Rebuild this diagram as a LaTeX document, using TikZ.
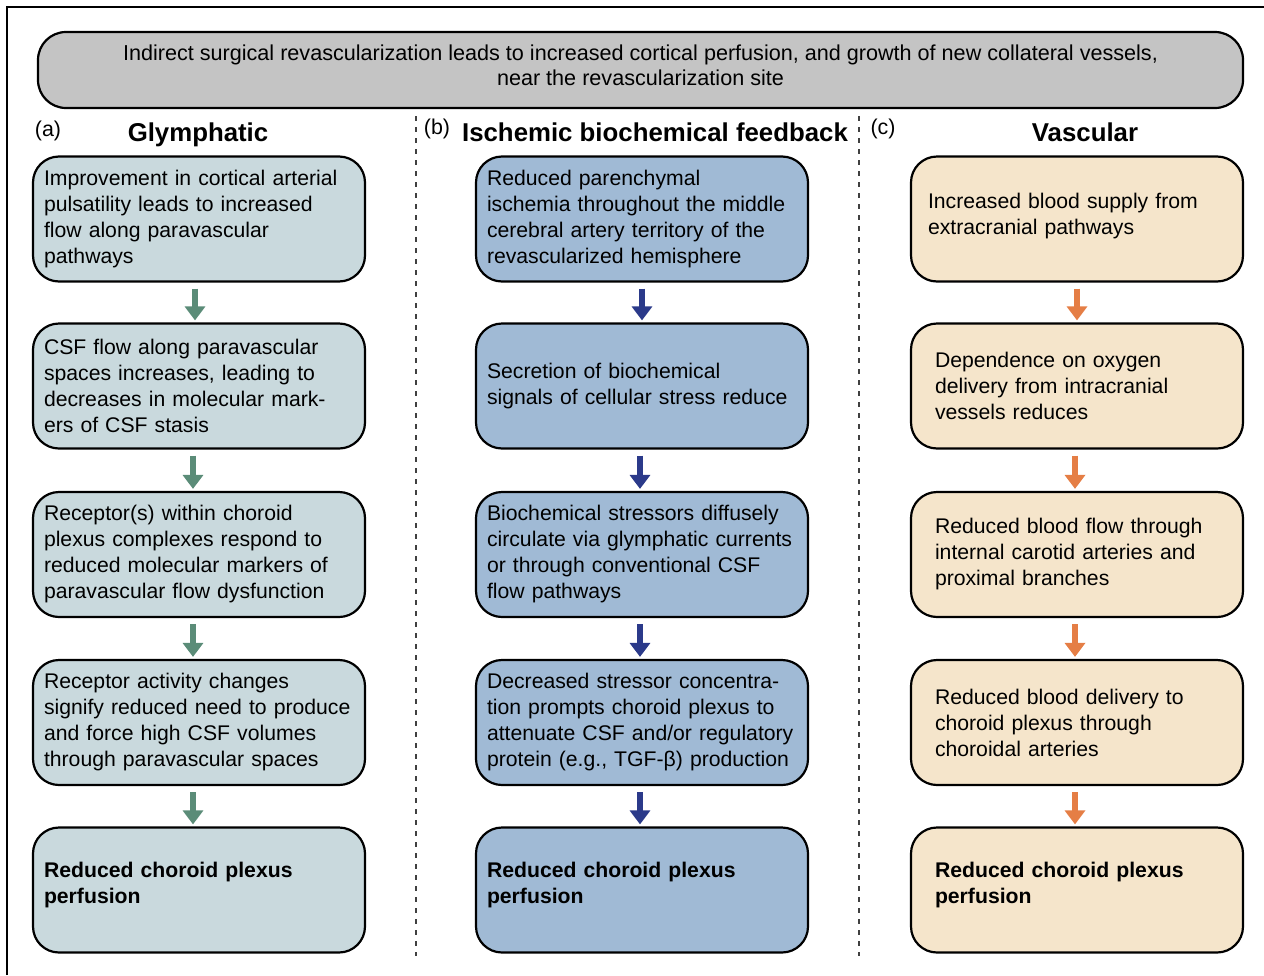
\documentclass[tikz,border=0pt]{standalone}
\usepackage{fontspec}
\setmainfont{Liberation Sans}
\usetikzlibrary{arrows.meta,positioning}
\usepackage{xcolor}
\definecolor{glyfill}{HTML}{C9D9DD}
\definecolor{ischfill}{HTML}{A0BAD5}
\definecolor{vascfill}{HTML}{F5E5CB}
\definecolor{topfill}{HTML}{C4C4C4}
\definecolor{glyarr}{HTML}{5B8C78}
\definecolor{isharr}{HTML}{2B3A8A}
\definecolor{vasarr}{HTML}{E57E45}

\begin{document}
\begin{tikzpicture}[x=0.5pt, y=-0.5pt,
  box/.style={rectangle, draw, line width=1.1pt, fill=#1, rounded corners=13pt, minimum width=166pt, minimum height=62.5pt,
    text width=155pt, inner xsep=5.5pt, align=left, font=\fontsize{10.6}{13}\selectfont},
  endbox/.style={box=#1, text depth=20pt, font=\fontsize{10.6}{13}\selectfont\bfseries},
  vbox/.style={box=vascfill, inner xsep=12pt, text width=142pt},
  arr/.style={-{Triangle[width=10pt,length=7pt]}, line width=3pt, #1},
  head/.style={anchor=base, font=\fontsize{12.9}{15}\selectfont\bfseries},
  tag/.style={font=\fontsize{10.7}{13}\selectfont}
]
  \useasboundingbox (0,0) rectangle (1264,975);
  \draw[line width=1pt] (7,975) -- (7,7) -- (1264,7);

  \node[rectangle, draw, line width=1.1pt, fill=topfill, rounded corners=14pt, minimum width=602.5pt, minimum height=38pt,
    text depth=5pt, align=center, font=\fontsize{10.8}{12.6}\selectfont] (top) at (640.5,70)
    {Indirect surgical revascularization leads to increased cortical perfusion, and growth of new collateral vessels,\\near the revascularization site};

  \draw[dashed, line width=0.7pt, dash pattern=on 2.5pt off 3pt, black!75] (416,116) -- (416,956);
  \draw[dashed, line width=0.7pt, dash pattern=on 2.5pt off 3pt, black!75] (859,116) -- (859,956);

  % (a) glymphatic
  \node[tag] (taga) at (48,131) {(a)};
  \node[head] (heada) at (198,141) {Glymphatic};
  \node[box=glyfill] (g1) at (199,219) {Improvement in cortical arterial\\pulsatility leads to increased\\flow along paravascular\\pathways};
  \node[box=glyfill] (g2) at (199,386) {CSF flow along paravascular\\spaces increases, leading to\\decreases in molecular mark-\\ers of CSF stasis};
  \node[box=glyfill] (g3) at (199,554.5) {Receptor(s) within choroid\\plexus complexes respond to\\reduced molecular markers of\\paravascular flow dysfunction};
  \node[box=glyfill] (g4) at (199,722.5) {Receptor activity changes\\signify reduced need to produce\\and force high CSF volumes\\through paravascular spaces};
  \node[endbox=glyfill] (g5) at (199,890) {Reduced choroid plexus\\perfusion};

  % (b) ischemic biochemical feedback
  \node[tag] (tagb) at (437,129) {(b)};
  \node[head] (headb) at (655,141) {Ischemic biochemical feedback};
  \node[box=ischfill] (i1) at (642,219) {Reduced parenchymal\\ischemia throughout the middle\\cerebral artery territory of the\\revascularized hemisphere};
  \node[box=ischfill] (i2) at (642,386) {Secretion of biochemical\\signals of cellular stress reduce};
  \node[box=ischfill] (i3) at (642,554.5) {Biochemical stressors diffusely\\circulate via glymphatic currents\\or through conventional CSF\\flow pathways};
  \node[box=ischfill] (i4) at (642,722.5) {Decreased stressor concentra-\\tion prompts choroid plexus to\\attenuate CSF and/or regulatory\\protein (e.g., TGF-β) production};
  \node[endbox=ischfill] (i5) at (642,890) {Reduced choroid plexus\\perfusion};

  % (c) vascular
  \node[tag] (tagc) at (883,129) {(c)};
  \node[head] (headc) at (1085,141) {Vascular};
  \node[vbox, inner xsep=8.5pt, text width=149pt, text depth=18.3pt] (v1) at (1077,219) {Increased blood supply from\\extracranial pathways};
  \node[vbox] (v2) at (1077,386) {Dependence on oxygen\\delivery from intracranial\\vessels reduces};
  \node[vbox] (v3) at (1077,554.5) {Reduced blood flow through\\internal carotid arteries and\\proximal branches};
  \node[vbox] (v4) at (1077,722.5) {Reduced blood delivery to\\choroid plexus through\\choroidal arteries};
  \node[vbox, text depth=20pt, font=\fontsize{10.6}{13}\selectfont\bfseries] (v5) at (1077,890) {Reduced choroid plexus\\perfusion};

  \draw[arr=glyarr] ([xshift=-2pt,yshift=-3pt]g1.south) -- ([xshift=-2pt,yshift=1pt]g2.north);
  \draw[arr=glyarr] ([xshift=-3pt,yshift=-3pt]g2.south) -- ([xshift=-3pt,yshift=1pt]g3.north);
  \draw[arr=glyarr] ([xshift=-3pt,yshift=-3pt]g3.south) -- ([xshift=-3pt,yshift=1pt]g4.north);
  \draw[arr=glyarr] ([xshift=-3pt,yshift=-3pt]g4.south) -- ([xshift=-3pt,yshift=1pt]g5.north);

  \draw[arr=isharr] ([yshift=-3pt]i1.south) -- ([yshift=1pt]i2.north);
  \draw[arr=isharr] ([xshift=-1pt,yshift=-3pt]i2.south) -- ([xshift=-1pt,yshift=1pt]i3.north);
  \draw[arr=isharr] ([xshift=-1pt,yshift=-3pt]i3.south) -- ([xshift=-1pt,yshift=1pt]i4.north);
  \draw[arr=isharr] ([xshift=-1pt,yshift=-3pt]i4.south) -- ([xshift=-1pt,yshift=1pt]i5.north);

  \draw[arr=vasarr] ([yshift=-3pt]v1.south) -- ([yshift=1pt]v2.north);
  \draw[arr=vasarr] ([xshift=-1pt,yshift=-3pt]v2.south) -- ([xshift=-1pt,yshift=1pt]v3.north);
  \draw[arr=vasarr] ([xshift=-1pt,yshift=-3pt]v3.south) -- ([xshift=-1pt,yshift=1pt]v4.north);
  \draw[arr=vasarr] ([xshift=-1pt,yshift=-3pt]v4.south) -- ([xshift=-1pt,yshift=1pt]v5.north);
\end{tikzpicture}
\end{document}
